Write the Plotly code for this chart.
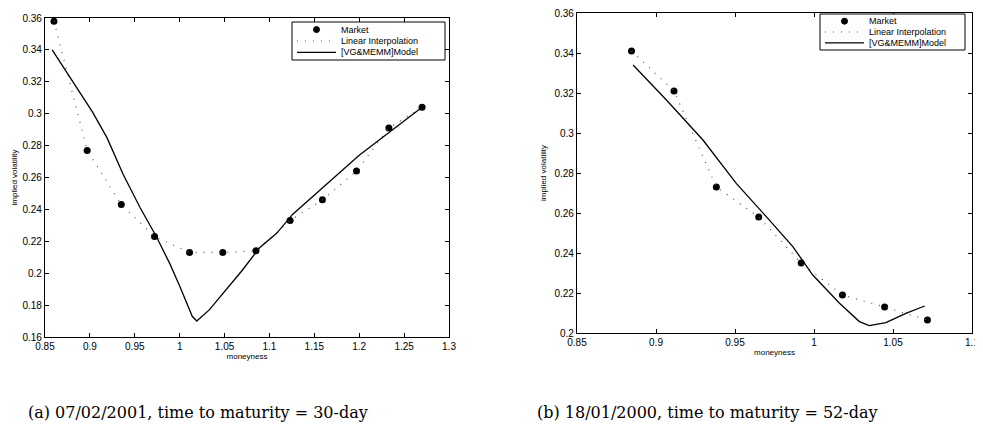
import plotly.graph_objects as go

# ---- Panel (a) data ----
a_mkt_x = [0.86, 0.897, 0.935, 0.972, 1.011, 1.048, 1.085, 1.123, 1.159, 1.197, 1.233, 1.270]
a_mkt_y = [0.358, 0.277, 0.243, 0.223, 0.213, 0.213, 0.214, 0.233, 0.246, 0.264, 0.291, 0.304]
a_mod_x = [0.858, 0.878, 0.903, 0.919, 0.937, 0.956, 0.974, 0.989, 1.0, 1.014, 1.019, 1.033,
           1.052, 1.07, 1.089, 1.108, 1.126, 1.156, 1.2, 1.235, 1.270]
a_mod_y = [0.340, 0.323, 0.301, 0.285, 0.262, 0.241, 0.223, 0.206, 0.192, 0.173, 0.170, 0.177,
           0.190, 0.202, 0.216, 0.225, 0.237, 0.252, 0.274, 0.289, 0.304]

# ---- Panel (b) data ----
b_mkt_x = [0.8845, 0.9114, 0.9382, 0.965, 0.9919, 1.018, 1.0447, 1.0718]
b_mkt_y = [0.341, 0.321, 0.273, 0.258, 0.235, 0.219, 0.213, 0.2065]
b_mod_x = [0.8855, 0.9066, 0.9297, 0.9508, 0.9708, 0.9866, 0.9992, 1.016, 1.0287, 1.035,
           1.0455, 1.0581, 1.0701]
b_mod_y = [0.334, 0.3165, 0.2965, 0.2748, 0.2573, 0.2432, 0.229, 0.215, 0.2057, 0.2037,
           0.2052, 0.2098, 0.2135]

a_xticks = [0.85, 0.9, 0.95, 1.0, 1.05, 1.1, 1.15, 1.2, 1.25, 1.3]
a_xlabels = ["0.85", "0.9", "0.95", "1", "1.05", "1.1", "1.15", "1.2", "1.25", "1.3"]
a_yticks = [0.16, 0.18, 0.2, 0.22, 0.24, 0.26, 0.28, 0.3, 0.32, 0.34, 0.36]
a_ylabels = ["0.16", "0.18", "0.2", "0.22", "0.24", "0.26", "0.28", "0.3", "0.32", "0.34", "0.36"]
b_xticks = [0.85, 0.9, 0.95, 1.0, 1.05, 1.1]
b_xlabels = ["0.85", "0.9", "0.95", "1", "1.05", "1.1"]
b_yticks = [0.2, 0.22, 0.24, 0.26, 0.28, 0.3, 0.32, 0.34, 0.36]
b_ylabels = ["0.2", "0.22", "0.24", "0.26", "0.28", "0.3", "0.32", "0.34", "0.36"]

legend_names = ["Market", "Linear Interpolation", "[VG&MEMM]Model"]
caption_a = "(a) 07/02/2001, time to maturity = 30-day"
caption_b = "(b) 18/01/2000, time to maturity = 52-day"

# page body has an 8px margin: figure is shifted by OFF in the window
OFF = 8
W, H = 983 - OFF, 435 - OFF
def px(x): return (x - OFF) / W          # window pixel -> paper x
def py(y): return 1 - (y - OFF) / H      # window pixel -> paper y

SANS = "Liberation Sans, Arial"
fig = go.Figure()

def add_panel(mx, my, lx, ly, xa, ya):
    fig.add_trace(go.Scatter(x=mx, y=my, mode="markers", name=legend_names[0],
                             marker=dict(color="black", size=7, symbol="circle"),
                             xaxis=xa, yaxis=ya, showlegend=False))
    fig.add_trace(go.Scatter(x=mx, y=my, mode="lines", name=legend_names[1],
                             line=dict(color="#555555", width=1.2, dash="1px,7px"),
                             xaxis=xa, yaxis=ya, showlegend=False))
    fig.add_trace(go.Scatter(x=lx, y=ly, mode="lines", name=legend_names[2],
                             line=dict(color="black", width=1.3),
                             xaxis=xa, yaxis=ya, showlegend=False))

add_panel(a_mkt_x, a_mkt_y, a_mod_x, a_mod_y, "x", "y")
add_panel(b_mkt_x, b_mkt_y, b_mod_x, b_mod_y, "x2", "y2")

shapes, annotations = [], []

def add_legend(x0, y0, x1, y1):
    shapes.append(dict(type="rect", xref="paper", yref="paper",
                       x0=px(x0), x1=px(x1), y0=py(y1), y1=py(y0),
                       line=dict(color="black", width=1), fillcolor="white", layer="above"))
    rows = [y0 + (y1 - y0) * f for f in (0.2, 0.5, 0.8)]
    mx0, mx1, tx = x0 + 5, x0 + 44, x0 + 47
    r = 3
    cx = (mx0 + mx1) / 2
    shapes.append(dict(type="circle", xref="paper", yref="paper",
                       x0=px(cx - r), x1=px(cx + r), y0=py(rows[0] + r), y1=py(rows[0] - r),
                       line=dict(color="black", width=1), fillcolor="black", layer="above"))
    shapes.append(dict(type="line", xref="paper", yref="paper",
                       x0=px(mx0), x1=px(mx1), y0=py(rows[1]), y1=py(rows[1]),
                       line=dict(color="#555555", width=1.2, dash="1px,7px"), layer="above"))
    shapes.append(dict(type="line", xref="paper", yref="paper",
                       x0=px(mx0), x1=px(mx1), y0=py(rows[2]), y1=py(rows[2]),
                       line=dict(color="black", width=1.3), layer="above"))
    for name, ry in zip(legend_names, rows):
        annotations.append(dict(text=name, x=px(tx), y=py(ry), xref="paper", yref="paper",
                                xanchor="left", yanchor="middle", showarrow=False,
                                font=dict(family=SANS, size=9, color="black")))

add_legend(292, 22, 445, 60)
add_legend(820, 14, 965, 50)

annotations.append(dict(text=caption_a, x=px(26), y=py(412), xref="paper", yref="paper",
                        xanchor="left", yanchor="middle", showarrow=False,
                        font=dict(family="DejaVu Serif", size=16, color="black")))
annotations.append(dict(text=caption_b, x=px(535), y=py(412), xref="paper", yref="paper",
                        xanchor="left", yanchor="middle", showarrow=False,
                        font=dict(family="DejaVu Serif", size=16, color="black")))

tickfont = dict(family=SANS, size=10, color="black")
titlefont = dict(family=SANS, size=8, color="black")
axis_common = dict(showgrid=False, zeroline=False, showline=True, linecolor="black",
                   linewidth=1.2, mirror="ticks", ticks="inside", ticklen=4,
                   tickcolor="black", tickfont=tickfont, automargin=False,
                   ticklabeloverflow="allow")

fig.update_layout(
    width=W, height=H, margin=dict(l=0, r=0, t=0, b=0),
    paper_bgcolor="white", plot_bgcolor="white", showlegend=False,
    xaxis=dict(domain=[px(45), px(449)], range=[0.85, 1.3], tickvals=a_xticks,
               ticktext=a_xlabels, anchor="y",
               title=dict(text="moneyness", font=titlefont, standoff=2), **axis_common),
    yaxis=dict(domain=[py(337), py(18)], range=[0.16, 0.36], tickvals=a_yticks,
               ticktext=a_ylabels, anchor="x",
               title=dict(text="implied volatility", font=titlefont, standoff=3), **axis_common),
    xaxis2=dict(domain=[px(577), px(972)], range=[0.85, 1.1], tickvals=b_xticks,
                ticktext=b_xlabels, anchor="y2",
                title=dict(text="moneyness", font=titlefont, standoff=2), **axis_common),
    yaxis2=dict(domain=[py(333), py(13)], range=[0.2, 0.36], tickvals=b_yticks,
                ticktext=b_ylabels, anchor="x2",
                title=dict(text="implied volatility", font=titlefont, standoff=6), **axis_common),
    shapes=shapes, annotations=annotations,
)

fig.write_html("out.html")
